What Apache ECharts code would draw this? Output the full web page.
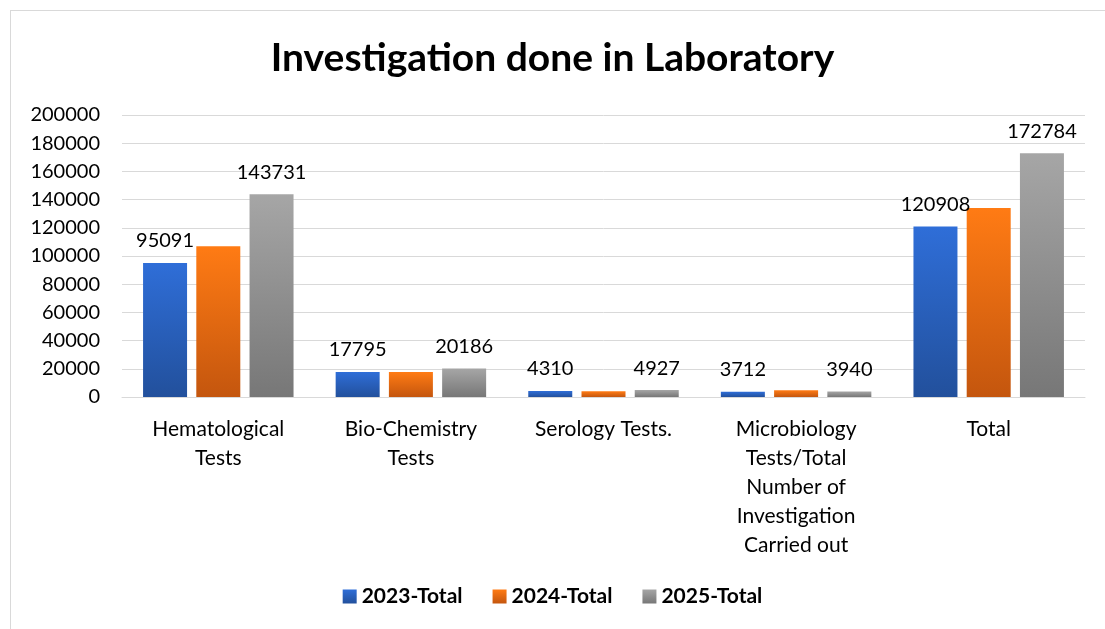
<!DOCTYPE html>
<html>
<head>
<meta charset="utf-8">
<script src="https://cdn.jsdelivr.net/npm/echarts@6/dist/echarts.min.js"></script>
<style>
  body { margin: 0; background: #fff; }
  #frame { position: absolute; left: 10px; top: 10px; width: 1110px; height: 640px; border: 1px solid #d9d9d9; }
  #chart { position: absolute; left: 0; top: 0; width: 1105px; height: 629px; }
</style>
</head>
<body>
<div id="frame"></div>
<div id="chart"></div>
<script>
const categories = [
  "Hematological\nTests",
  "Bio-Chemistry\nTests",
  "Serology Tests.",
  "Microbiology\nTests/Total\nNumber of\nInvestigation\nCarried out",
  "Total"
];
const seriesNames = ["2023-Total", "2024-Total", "2025-Total"];
const values2023 = [95091, 17795, 4310, 3712, 120908];
const values2024 = [107000, 17700, 4000, 4800, 134000];
const values2025 = [143731, 20186, 4927, 3940, 172784];

const font = "Lato, 'Open Sans', sans-serif";

const grad = (top, bottom) => new echarts.graphic.LinearGradient(0, 0, 0, 1, [
  { offset: 0, color: top },
  { offset: 1, color: bottom }
]);

const chart = echarts.init(document.getElementById("chart"));

const labelOn = {
  show: true,
  position: "top",
  distance: 12,
  color: "#000",
  fontSize: 20,
  fontFamily: font
};

const barBase = {
  type: "bar",
  barWidth: 44,
  barGap: "21%"
};

chart.setOption({
  animation: false,
  title: {
    text: "Investigation done in Laboratory",
    left: "center",
    top: 34,
    textStyle: { fontSize: 39, fontWeight: "bold", color: "#000", fontFamily: font }
  },
  legend: {
    bottom: 17,
    left: "center",
    itemWidth: 14,
    itemHeight: 14,
    itemGap: 30,
    icon: "rect",
    textStyle: { fontSize: 21, fontWeight: "bold", color: "#000", fontFamily: font },
    data: seriesNames
  },
  grid: { left: 122, right: 20, top: 115, bottom: 232, containLabel: false },
  xAxis: {
    type: "category",
    data: categories,
    axisLine: { lineStyle: { color: "#d9d9d9", width: 1 } },
    axisTick: { show: false },
    axisLabel: { color: "#000", fontSize: 21, fontFamily: font, lineHeight: 29, margin: 18, interval: 0 }
  },
  yAxis: {
    type: "value",
    min: 0,
    max: 200000,
    interval: 20000,
    axisLine: { show: false },
    axisTick: { show: false },
    splitLine: { lineStyle: { color: "#d9d9d9", width: 1 } },
    axisLabel: { color: "#000", fontSize: 20, fontFamily: font, margin: 22, formatter: (v) => String(v) }
  },
  series: [
    Object.assign({}, barBase, {
      name: seriesNames[0],
      data: values2023,
      itemStyle: { color: grad("#2f6ed8", "#22509c") },
      label: labelOn
    }),
    Object.assign({}, barBase, {
      name: seriesNames[1],
      data: values2024,
      itemStyle: { color: grad("#ff7b14", "#c4560e") }
    }),
    Object.assign({}, barBase, {
      name: seriesNames[2],
      data: values2025,
      itemStyle: { color: grad("#a6a6a6", "#777777") },
      label: labelOn
    })
  ]
});
</script>
</body>
</html>
